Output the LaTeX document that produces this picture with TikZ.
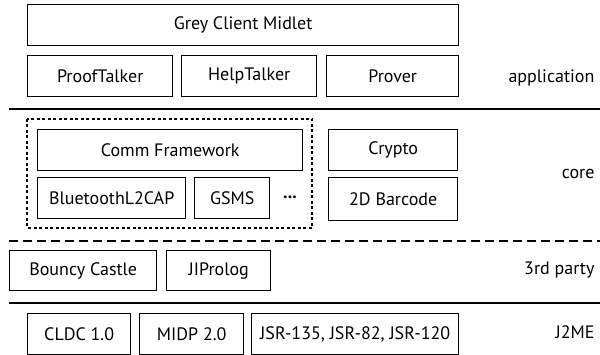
\documentclass[tikz,border=0pt]{standalone}
\usepackage{fontspec}
\setmainfont{PT Sans}
\begin{document}
\begin{tikzpicture}[x=1pt,y=-1pt,
  blk/.style={draw,line width=1.4pt,inner sep=0pt,anchor=north west,font=\fontsize{18}{20}\selectfont},
  lyr/.style={anchor=east,font=\fontsize{18}{20}\selectfont},
  sep/.style={line width=1.4pt}]
\useasboundingbox (0,0) rectangle (600,355);

% Application layer
\node[blk,minimum width=431pt,minimum height=41pt] (midlet) at (27,4) {Grey Client Midlet};
\node[blk,minimum width=145pt,minimum height=41pt] (proof) at (27,55) {ProofTalker};
\node[blk,minimum width=135pt,minimum height=41pt] (help) at (181,55) {HelpTalker};
\node[blk,minimum width=132pt,minimum height=41pt] (prover) at (326,55) {Prover};
\node[lyr] (app) at (598,78) {application};
\draw[sep] (9,109) -- (600,109);

% Core layer
\draw[line width=1.3pt,dash pattern=on 3pt off 2.5pt] (27,119) rectangle (312,228);
\node[blk,minimum width=265pt,minimum height=41pt] (comm) at (37,129) {Comm Framework};
\node[blk,minimum width=148pt,minimum height=41pt] (bt) at (37,177) {BluetoothL2CAP};
\node[blk,minimum width=75pt,minimum height=41pt] (gsms) at (194,177) {GSMS};
\node[font=\fontsize{18}{20}\selectfont\bfseries] (dots) at (290,197) {...};
\node[blk,minimum width=129pt,minimum height=41pt] (crypto) at (328,129) {Crypto};
\node[blk,minimum width=129pt,minimum height=43pt] (barcode) at (328,177) {2D Barcode};
\node[lyr] (core) at (598,174) {core};
\draw[sep,dash pattern=on 9pt off 5pt] (9,241) -- (600,241);

% 3rd party layer
\node[blk,minimum width=147pt,minimum height=40pt] (bouncy) at (9,250) {Bouncy Castle};
\node[blk,minimum width=104pt,minimum height=40pt] (jip) at (166,250) {JIProlog};
\node[lyr] (third) at (598,270) {3rd party};
\draw[sep] (9,303) -- (600,303);

% J2ME layer
\node[blk,minimum width=103pt,minimum height=41pt] (cldc) at (27,313) {CLDC 1.0};
\node[blk,minimum width=104pt,minimum height=41pt] (midp) at (139,313) {MIDP 2.0};
\node[blk,minimum width=207pt,minimum height=41pt] (jsr) at (251,313) {JSR-135, JSR-82, JSR-120};
\node[lyr] (j2me) at (598,332) {J2ME};

\end{tikzpicture}
\end{document}
